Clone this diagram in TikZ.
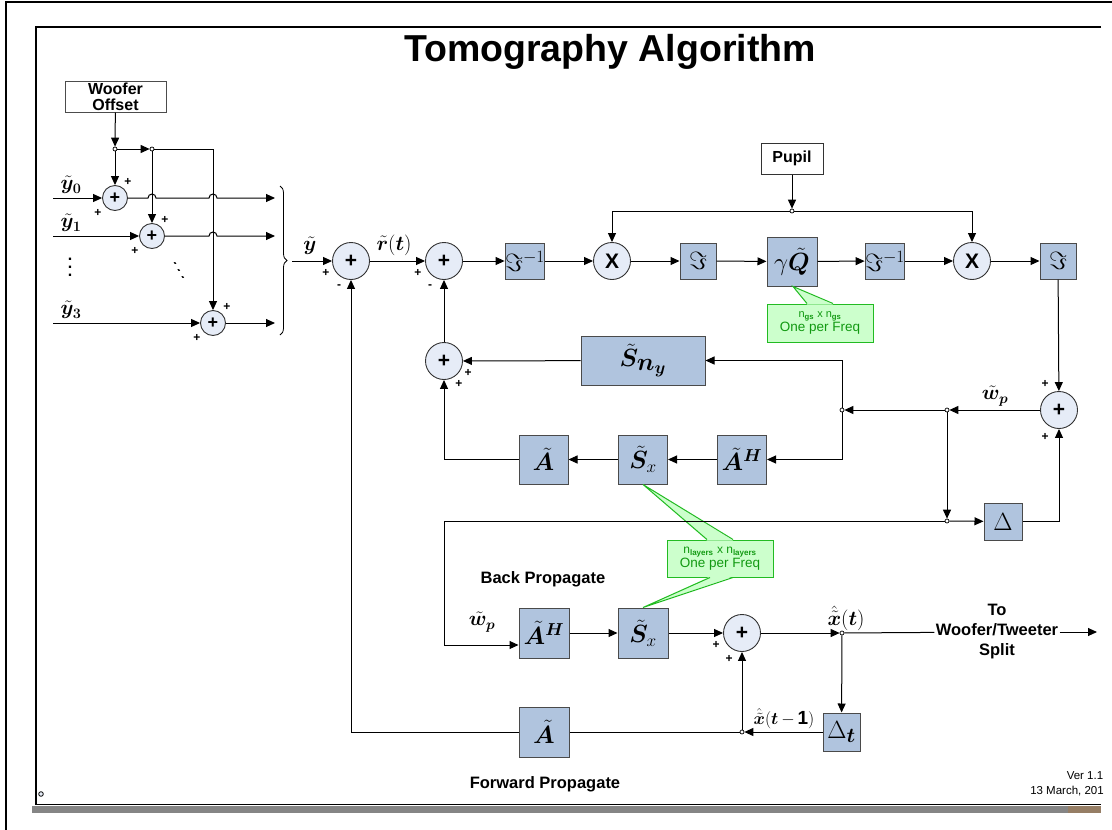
\documentclass[tikz,border=0pt]{standalone}
\usepackage{fontspec}
\setmainfont{Liberation Sans}
\usepackage{amsmath,amssymb,bm}
\usepackage{tikz}
\usetikzlibrary{positioning,calc,arrows.meta,decorations.pathreplacing}

\definecolor{blkfill}{HTML}{B0C4DE}
\definecolor{blkline}{HTML}{4A4A4A}
\definecolor{sumfill}{HTML}{E6ECF7}
\definecolor{notefill}{HTML}{CCFFCC}
\definecolor{noteline}{HTML}{22BB22}
\definecolor{notetext}{HTML}{119911}
\definecolor{stripgray}{HTML}{858585}

\tikzset{
  arr/.style={-{Triangle[length=9pt,width=8pt]}},
  blk/.style={draw=blkline, fill=blkfill, line width=1pt, minimum width=36, minimum height=36, inner sep=0},
  summ/.style={circle, draw=black!80, fill=sumfill, line width=0.9pt, minimum size=37, inner sep=0, font=\bfseries\fontsize{21}{21}\selectfont},
  jn/.style={circle, draw, fill=white, inner sep=0, minimum size=4, line width=0.7pt},
  sg/.style={inner sep=0, font=\bfseries\fontsize{12}{12}\selectfont},
  lbl/.style={inner sep=0, font=\fontsize{21}{21}\selectfont},
  captxt/.style={inner sep=0, font=\bfseries\fontsize{16.5}{18}\selectfont},
  note/.style={draw=noteline, fill=notefill, line width=1pt, minimum width=106, minimum height=38, inner sep=0, align=center, text=notetext}
}

\begin{document}
\begin{tikzpicture}[x=1pt,y=1pt,line width=1pt]
    \useasboundingbox (0,0) rectangle (1112,-830);

    % frames
    \draw[line width=2.5pt] (6,-830) -- (6,-2) -- (1112,-2);
    \fill[stripgray] (32,-805.5) rectangle (1101,-813);
    \fill[brown!55!black!70] (1068,-805.5) rectangle (1101,-813);
    \draw[line width=1.4pt] (1101,-27) -- (36,-27) -- (36,-804.5) -- (1101,-804.5);
    \draw[fill=sumfill, line width=0.8pt] (41,-794) circle (2.3);

    \node[inner sep=0, font=\bfseries\fontsize{37.5}{40}\selectfont] (title) at (610,-52) {Tomography Algorithm};

    % woofer offset
    \node[draw=black!70, minimum width=101, minimum height=31, inner sep=0, align=center, font=\bfseries\fontsize{16}{16}\selectfont] (wo) at (115.5,-96.5) {Woofer\\Offset};
    \node[jn] (j0) at (115,-149) {};
    \node[jn] (j1) at (152,-149) {};
    \coordinate (c2) at (213,-149);
    \node[summ, minimum size=25, font=\bfseries\fontsize{18}{18}\selectfont] (s0) at (115,-198) {+};
    \node[summ, minimum size=25, font=\bfseries\fontsize{18}{18}\selectfont] (s1) at (152,-236) {+};
    \node[summ, minimum size=25, font=\bfseries\fontsize{18}{18}\selectfont] (s3) at (213,-323) {+};
    \coordinate (in0) at (53,-198);
    \coordinate (in1) at (53,-236);
    \coordinate (in3) at (53,-323);
    \coordinate (out0) at (275,-198);
    \coordinate (out1) at (275,-236);
    \coordinate (out3) at (275,-323);
    \node[lbl] (y0) at (71,-185) {$\bm{\tilde{y}_0}$};
    \node[lbl] (y1) at (71,-223) {$\bm{\tilde{y}_1}$};
    \node[lbl] (y3) at (71,-310) {$\bm{\tilde{y}_3}$};
    \node[inner sep=0, align=center, font=\bfseries\fontsize{16}{8}\selectfont] (vd) at (70,-267) {.\\.\\.};
    \node[inner sep=0, align=center, xslant=-0.55, font=\bfseries\fontsize{13}{7}\selectfont] (dd) at (179,-271) {.\\.\\.};
    \node[sg] (p01) at (128,-182) {+};
    \node[sg] (p02) at (98,-213) {+};
    \node[sg] (p11) at (165,-220) {+};
    \node[sg] (p12) at (135,-251) {+};
    \node[sg] (p31) at (227,-307) {+};
    \node[sg] (p32) at (197,-338) {+};

    \draw[arr] (wo) -- (j0);
    \draw[arr] (j0) -- (j1);
    \draw[arr] (j0) -- (s0);
    \draw[arr] (j1) -- (s1);
    \draw[arr] (j1) -| (s3);
    \draw[arr] (in0) -- (s0);
    \draw[arr] (in1) -- (s1);
    \draw[arr] (in3) -- (s3);
    \draw[arr] (s0) -- ($(j1 |- s0)+(-4,0)$) arc[start angle=180,end angle=0,radius=4]
        -- ($(c2 |- s0)+(-4,0)$) arc[start angle=180,end angle=0,radius=4] -- (out0);
    \draw[arr] (s1) -- ($(c2 |- s1)+(-4,0)$) arc[start angle=180,end angle=0,radius=4] -- (out1);
    \draw[arr] (s3) -- (out3);

    % brace into main loop
    \coordinate (bt) at (280,-186);
    \coordinate (bb) at (280,-335);
    \draw[decorate, decoration={brace, amplitude=7pt}, line width=0.8pt] (bt) -- (bb);
    \coordinate (yb) at (292,-261);
    \node[lbl] (yl) at (310,-246) {$\bm{\tilde{y}}$};

    % main row
    \node[summ] (sA) at (351,-261) {+};
    \node[summ] (sB) at (444,-261) {+};
    \node[blk] (fi1) at (525,-261) {\fontsize{27}{27}\selectfont$\Im^{-1}$};
    \node[summ] (m1) at (612,-261) {X};
    \node[blk] (f1) at (698,-261) {\fontsize{27}{27}\selectfont$\Im$};
    \node[blk, minimum width=50, minimum height=49] (gq) at (792,-261.5) {\fontsize{26}{26}\selectfont$\gamma\bm{\tilde{Q}}$};
    \node[blk] (fi2) at (885,-261) {\fontsize{27}{27}\selectfont$\Im^{-1}$};
    \node[summ] (m2) at (972,-261) {X};
    \node[blk] (f2) at (1058,-261) {\fontsize{27}{27}\selectfont$\Im$};
    \node[lbl] (rl) at (394,-245) {$\bm{\tilde{r}}(\bm{t})$};
    \node[sg] (pa1) at (326,-273) {+};
    \node[sg] (ma1) at (339,-287) {-};
    \node[sg] (pb1) at (418,-273) {+};
    \node[sg] (mb1) at (430,-287) {-};

    \node[draw=black!80, minimum width=62, minimum height=31, inner sep=0, font=\bfseries\fontsize{16}{18}\selectfont] (pupil) at (792,-158.5) {Pupil};
    \node[jn] (pj) at (792,-211) {};

    \node[note] (n1) at (820,-323) {\fontsize{11}{16}\selectfont n\textsubscript{\bfseries gs} x n\textsubscript{\bfseries gs}\\\fontsize{13.5}{16}\selectfont One per Freq};
    \fill[notefill] ($(n1.north)+(-13,-1)$) -- ($(gq.south)+(1,0)$) -- ($(n1.north)+(13,-1)$) -- cycle;
    \draw[noteline] ($(n1.north)+(-13,0)$) -- ($(gq.south)+(1,0)$) -- ($(n1.north)+(13,0)$);

    \draw[arr] (yb) -- (sA);
    \draw[arr] (sA) -- (sB);
    \draw[arr] (sB) -- (fi1);
    \draw[arr] (fi1) -- (m1);
    \draw[arr] (m1) -- (f1);
    \draw[arr] (f1) -- (gq);
    \draw[arr] (gq) -- (fi2);
    \draw[arr] (fi2) -- (m2);
    \draw[arr] (m2) -- (f2);
    \draw[arr] (pupil) -- (pj);
    \draw[arr] (pj) -| (m1);
    \draw[arr] (pj) -| (m2);

    % feedback middle
    \node[summ] (sC) at (444,-361) {+};
    \node[blk, minimum width=124, minimum height=49] (sny) at (643,-360.5) {\fontsize{36}{36}\selectfont$\bm{\tilde{S}_{n_y}}$};
    \node[blk, minimum width=49, minimum height=49] (ta) at (543.5,-459.5) {\fontsize{26}{26}\selectfont$\bm{\tilde{A}}$};
    \node[blk, minimum width=49, minimum height=49] (tsx) at (643,-459.5) {\fontsize{26}{26}\selectfont$\bm{\tilde{S}}_{x}$};
    \node[blk, minimum width=49, minimum height=49] (tah) at (742,-459.5) {\fontsize{26}{26}\selectfont$\bm{\tilde{A}^{H}}$};
    \node[sg] (pc1) at (468,-373) {+};
    \node[sg] (pc2) at (459,-384) {+};

    \node[summ] (sR) at (1059,-410) {+};
    \node[jn] (jr) at (947,-410) {};
    \node[jn] (jm) at (842,-410) {};
    \node[jn] (jd) at (947,-521) {};
    \node[blk, minimum width=38, minimum height=37] (delta) at (1003,-521.5) {\fontsize{28}{28}\selectfont$\Delta$};
    \node[lbl] (wr) at (995,-396) {$\bm{\tilde{w}_p}$};
    \node[sg] (pr1) at (1045,-384) {+};
    \node[sg] (pr2) at (1045,-437) {+};

    \node[note, minimum height=37] (n2) at (720,-558.5) {\fontsize{12}{15}\selectfont n\textsubscript{\bfseries layers} x n\textsubscript{\bfseries layers}\\\fontsize{13.5}{15}\selectfont One per Freq};

    \draw[arr] (f2) -- (sR);
    \draw[arr] (sR) -- (jr);
    \draw[arr] (jr) -- (jm);
    \draw[arr] (jm) |- (sny);
    \draw[arr] (jm) |- (tah);
    \draw[arr] (tah) -- (tsx);
    \draw[arr] (tsx) -- (ta);
    \draw[arr] (ta) -| (sC);
    \draw[arr] (sny) -- (sC);
    \draw[arr] (sC) -- (sB);
    \draw[arr] (jr) -- (jd);
    \draw[arr] (jd) -- (delta);
    \draw[arr] (delta) -| (sR);

    % back / forward propagate
    \node[captxt] (bpl) at (543,-579) {Back Propagate};
    \node[captxt] (fpl) at (545,-784) {Forward Propagate};
    \node[blk, minimum width=50, minimum height=50] (lah) at (544,-633) {\fontsize{26}{26}\selectfont$\bm{\tilde{A}^{H}}$};
    \node[blk, minimum width=50, minimum height=50] (lsx) at (643,-633) {\fontsize{26}{26}\selectfont$\bm{\tilde{S}}_{x}$};
    \node[summ] (sD) at (742,-633) {+};
    \node[jn] (jx) at (842,-633) {};
    \node[blk, minimum width=37, minimum height=38] (dt) at (841.5,-732) {\fontsize{28}{28}\selectfont$\Delta_{\bm t}$};
    \node[jn] (jt) at (742,-732) {};
    \node[blk, minimum width=50, minimum height=50] (la) at (544,-732) {\fontsize{26}{26}\selectfont$\bm{\tilde{A}}$};
    \node[inner sep=1pt, align=center, font=\bfseries\fontsize{16.5}{20}\selectfont] (ws) at (997,-632) {To\\Woofer/Tweeter\\Split};
    \coordinate (tw) at (1097,-632);
    \coordinate (bp) at (444,-521);
    \node[lbl] (wl) at (482,-622) {$\bm{\tilde{w}_p}$};
    \node[lbl] (xl) at (846,-618) {$\bm{\hat{\tilde{x}}}(\bm{t})$};
    \node[lbl, font=\fontsize{19}{19}\selectfont] (xl1) at (784,-719) {$\bm{\hat{\tilde{x}}}(\bm{t}\,\mathbf{-}\,\mathbf{1})$};
    \node[sg] (pd1) at (716,-645) {+};
    \node[sg] (pd2) at (729,-659) {+};

    \fill[notefill] ($(n2.north)+(-13,-1)$) -- (tsx.south) -- ($(n2.north)+(13,-1)$) -- cycle;
    \draw[noteline] ($(n2.north)+(-13,0)$) -- (tsx.south) -- ($(n2.north)+(13,0)$);
    \fill[notefill] ($(n2.south)+(-10,1)$) -- (lsx.north) -- ($(n2.south)+(13,1)$) -- cycle;
    \draw[noteline] ($(n2.south)+(-10,0)$) -- (lsx.north) -- ($(n2.south)+(13,0)$);

    \draw[arr] (jd) -- (bp) |- ([yshift=-12pt]lah.west);
    \draw[arr] (lah) -- (lsx);
    \draw[arr] (lsx) -- (sD);
    \draw[arr] (sD) -- (jx);
    \draw (jx) -- (ws);
    \draw[arr] (ws) -- (tw);
    \draw[arr] (jx) -- (dt);
    \draw[arr] (dt) -- (jt);
    \draw[arr] (jt) -- (sD);
    \draw (jt) -- (la);
    \draw[arr] (la) -| (sA);

    % version
    \node[inner sep=0, font=\fontsize{11.5}{13}\selectfont] (ver) at (1085,-776) {Ver 1.1};
    \node[inner sep=0, font=\fontsize{11.5}{13}\selectfont] (date) at (1067,-791) {13 March, 201};
\end{tikzpicture}
\end{document}
